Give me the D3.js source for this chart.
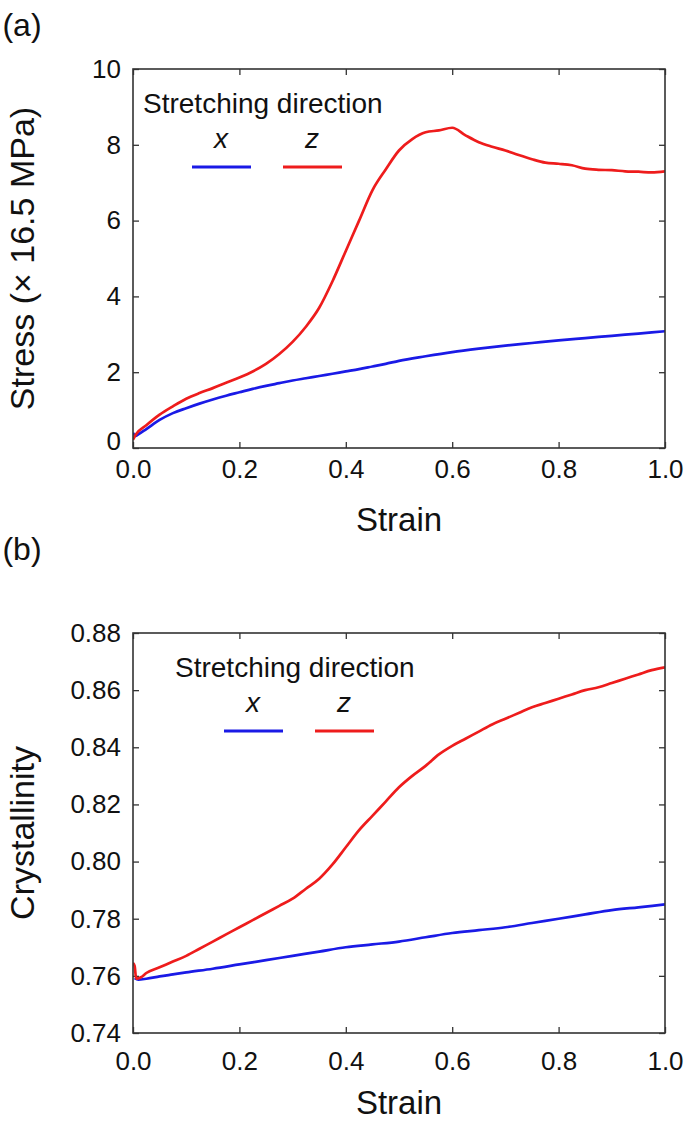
<!DOCTYPE html>
<html>
<head>
<meta charset="utf-8">
<script src="https://cdn.jsdelivr.net/npm/d3@7"></script>
<style>
  body { margin: 0; background: #fff; }
  svg { display: block; font-family: "Liberation Sans", Arial, sans-serif; }
  .axis text { font-size: 26px; fill: #111; }
  .axis line { stroke: #333; stroke-width: 1.3; }
  .axis path { display: none; }
</style>
</head>
<body>
<div id="main"></div>
<script>
!(function () {
  'use strict';
  // - - - - - - - - - -

  // data
  const strainTicks = [0, 0.2, 0.4, 0.6, 0.8, 1.0];
  const stressTicks = [0, 2, 4, 6, 8, 10];
  const crystTicks = [0.74, 0.76, 0.78, 0.80, 0.82, 0.84, 0.86, 0.88];

  const legendTitle = 'Stretching direction';
  const seriesNames = ['x', 'z'];

  // (a) stress, stretching along x
  const stressStrainX = [0, 0.005, 0.01, 0.025, 0.05, 0.075, 0.1, 0.125, 0.15, 0.175, 0.2, 0.225, 0.25, 0.275, 0.3, 0.325, 0.35, 0.375, 0.4, 0.425, 0.45, 0.475, 0.5, 0.55, 0.6, 0.65, 0.7, 0.75, 0.8, 0.85, 0.9, 0.95, 1.0];
  const stressX = [0.40, 0.32, 0.36, 0.50, 0.74, 0.92, 1.05, 1.17, 1.28, 1.38, 1.47, 1.56, 1.64, 1.71, 1.78, 1.84, 1.90, 1.96, 2.02, 2.08, 2.15, 2.22, 2.30, 2.42, 2.53, 2.62, 2.70, 2.77, 2.84, 2.90, 2.96, 3.02, 3.08];

  // (a) stress, stretching along z
  const stressStrainZ = [0, 0.005, 0.025, 0.05, 0.075, 0.1, 0.125, 0.15, 0.175, 0.2, 0.225, 0.25, 0.275, 0.3, 0.325, 0.35, 0.375, 0.4, 0.425, 0.45, 0.475, 0.5, 0.525, 0.55, 0.575, 0.6, 0.625, 0.65, 0.675, 0.7, 0.725, 0.75, 0.775, 0.8, 0.825, 0.85, 0.875, 0.9, 0.925, 0.95, 0.975, 1.0];
  const stressZ = [0.22, 0.35, 0.60, 0.88, 1.10, 1.30, 1.45, 1.58, 1.72, 1.86, 2.02, 2.22, 2.48, 2.80, 3.20, 3.70, 4.40, 5.20, 6.00, 6.80, 7.35, 7.85, 8.15, 8.33, 8.38, 8.45, 8.25, 8.07, 7.95, 7.85, 7.73, 7.62, 7.53, 7.50, 7.46, 7.37, 7.34, 7.33, 7.30, 7.29, 7.27, 7.30];

  // (b) crystallinity, stretching along x
  const crystStrainX = [0.003, 0.01, 0.025, 0.05, 0.075, 0.1, 0.15, 0.2, 0.25, 0.3, 0.35, 0.4, 0.45, 0.5, 0.55, 0.6, 0.65, 0.7, 0.75, 0.8, 0.85, 0.9, 0.95, 1.0];
  const crystX = [0.7592, 0.7587, 0.7590, 0.7598, 0.7605, 0.7612, 0.7625, 0.7640, 0.7655, 0.7670, 0.7685, 0.7700, 0.7710, 0.7720, 0.7735, 0.7750, 0.7760, 0.7770, 0.7785, 0.7800, 0.7815, 0.7830, 0.7840, 0.7850];

  // (b) crystallinity, stretching along z
  const crystStrainZ = [0, 0.003, 0.006, 0.015, 0.025, 0.05, 0.075, 0.1, 0.125, 0.15, 0.175, 0.2, 0.225, 0.25, 0.275, 0.3, 0.325, 0.35, 0.375, 0.4, 0.425, 0.45, 0.475, 0.5, 0.525, 0.55, 0.575, 0.6, 0.625, 0.65, 0.675, 0.7, 0.725, 0.75, 0.775, 0.8, 0.825, 0.85, 0.875, 0.9, 0.925, 0.95, 0.975, 1.0];
  const crystZ = [0.7645, 0.7635, 0.7590, 0.7595, 0.7610, 0.7630, 0.7650, 0.7670, 0.7695, 0.7720, 0.7745, 0.7770, 0.7795, 0.7820, 0.7845, 0.7870, 0.7905, 0.7940, 0.7990, 0.8050, 0.8110, 0.8160, 0.8210, 0.8260, 0.8300, 0.8335, 0.8375, 0.8405, 0.8430, 0.8455, 0.8480, 0.8500, 0.8520, 0.8540, 0.8555, 0.8570, 0.8585, 0.8600, 0.8610, 0.8625, 0.8640, 0.8655, 0.8670, 0.8680];

  // configuration
  const canvas = { context: '#main', width: 685, height: 1124 };
  const colors = { x: '#1a1ae6', z: '#ee1c1c' };

  const panels = [{
      tag: '(a)',
      box: { left: 133, right: 665, top: 69, bottom: 448 },
      xDomain: [0, 1],
      yDomain: [0, 10],
      yTicks: stressTicks,
      yFormat: d3.format('d'),
      yLabel: 'Stress (× 16.5 MPa)',
      tagPos: [22, 36],
      xLabelY: 531,
      xTickPad: 12,
      zeroLift: 7,
      legendShift: 0,
      series: [
        { key: 'x', xs: stressStrainX, ys: stressX },
        { key: 'z', xs: stressStrainZ, ys: stressZ }
      ]
    },
    {
      tag: '(b)',
      box: { left: 133, right: 665, top: 633, bottom: 1033 },
      xDomain: [0, 1],
      yDomain: [0.74, 0.88],
      yTicks: crystTicks,
      yFormat: d3.format('.2f'),
      yLabel: 'Crystallinity',
      tagPos: [22, 560],
      xLabelY: 1114,
      xTickPad: 19,
      zeroLift: 0,
      legendShift: 32,
      series: [
        { key: 'x', xs: crystStrainX, ys: crystX },
        { key: 'z', xs: crystStrainZ, ys: crystZ }
      ]
    }
  ];

  let svg;

  // methods
  function setCanvas(domContext) {
    svg = d3.select(domContext)
      .append('svg')
      .attr('width', canvas.width)
      .attr('height', canvas.height);
  }

  function drawPanel(p, idx) {
    const b = p.box;
    const xScale = d3.scaleLinear().domain(p.xDomain).range([b.left, b.right]);
    const yScale = d3.scaleLinear().domain(p.yDomain).range([b.bottom, b.top]);
    const g = svg.append('g').attr('class', 'panel');

    // axes, ticks pointing inward
    g.append('g')
      .attr('class', 'axis')
      .attr('transform', 'translate(0,' + b.bottom + ')')
      .call(d3.axisBottom(xScale).tickValues(strainTicks).tickSize(-6)
        .tickPadding(p.xTickPad).tickFormat(d3.format('.1f')));
    g.append('g')
      .attr('class', 'axis')
      .attr('transform', 'translate(0,' + b.top + ')')
      .call(d3.axisTop(xScale).tickValues(strainTicks).tickSize(-6).tickFormat(''));
    const yAxis = g.append('g')
      .attr('class', 'axis')
      .attr('transform', 'translate(' + b.left + ',0)')
      .call(d3.axisLeft(yScale).tickValues(p.yTicks).tickSize(-6)
        .tickPadding(12).tickFormat(p.yFormat));
    // lowest label sits a little higher, clear of the strain labels
    yAxis.selectAll('.tick text')
      .filter(function (d) { return d === p.yDomain[0]; })
      .attr('y', -p.zeroLift);
    g.append('g')
      .attr('class', 'axis')
      .attr('transform', 'translate(' + b.right + ',0)')
      .call(d3.axisRight(yScale).tickValues(p.yTicks).tickSize(-6).tickFormat(''));

    // lines
    const clipId = 'clip' + idx;
    g.append('clipPath').attr('id', clipId)
      .append('rect')
      .attr('x', b.left).attr('y', b.top)
      .attr('width', b.right - b.left).attr('height', b.bottom - b.top);

    const line = d3.line()
      .curve(d3.curveMonotoneX)
      .x(function (d) { return xScale(d[0]); })
      .y(function (d) { return yScale(d[1]); });

    g.append('g')
      .attr('clip-path', 'url(#' + clipId + ')')
      .selectAll('path')
      .data(p.series)
      .enter()
      .append('path')
      .attr('fill', 'none')
      .attr('stroke', function (d) { return colors[d.key]; })
      .attr('stroke-width', 2.7)
      .attr('stroke-linejoin', 'round')
      .attr('d', function (d) {
        return line(d.xs.map(function (x, i) { return [x, d.ys[i]]; }));
      });

    // frame
    g.append('rect')
      .attr('x', b.left).attr('y', b.top)
      .attr('width', b.right - b.left).attr('height', b.bottom - b.top)
      .attr('fill', 'none')
      .attr('stroke', '#333')
      .attr('stroke-width', 1.6);

    // labels
    g.append('text')
      .attr('x', (b.left + b.right) / 2 - 0)
      .attr('y', p.xLabelY)
      .attr('text-anchor', 'middle')
      .attr('font-size', 33)
      .attr('fill', '#111')
      .text('Strain');

    g.append('text')
      .attr('transform', 'translate(34,' + ((b.top + b.bottom) / 2) + ') rotate(-90)')
      .attr('text-anchor', 'middle')
      .attr('font-size', 34)
      .attr('fill', '#111')
      .text(p.yLabel);

    g.append('text')
      .attr('x', p.tagPos[0])
      .attr('y', p.tagPos[1])
      .attr('text-anchor', 'middle')
      .attr('font-size', 32)
      .attr('fill', '#111')
      .text(p.tag);

    // legend
    const s = p.legendShift;
    const lg = g.append('g').attr('class', 'legend')
      .attr('transform', 'translate(' + s + ',' + b.top + ')');
    lg.append('text')
      .attr('x', 143).attr('y', 44)
      .attr('font-size', 28)
      .attr('fill', '#111')
      .text(legendTitle);

    const items = lg.selectAll('g.item')
      .data(seriesNames)
      .enter()
      .append('g')
      .attr('class', 'item')
      .attr('transform', function (d, i) { return 'translate(' + (192 + i * 91) + ',0)'; });
    items.append('text')
      .attr('x', 29).attr('y', 79)
      .attr('text-anchor', 'middle')
      .attr('font-size', 28)
      .attr('font-style', 'italic')
      .attr('fill', '#111')
      .text(function (d) { return d; });
    items.append('line')
      .attr('x1', 0).attr('x2', 59)
      .attr('y1', 98).attr('y2', 98)
      .attr('stroke', function (d) { return colors[d]; })
      .attr('stroke-width', 2.8);
  }

  // control
  setCanvas(canvas.context);
  panels.forEach(drawPanel);
  // - - - - - - - - - -
}());
</script>
</body>
</html>
